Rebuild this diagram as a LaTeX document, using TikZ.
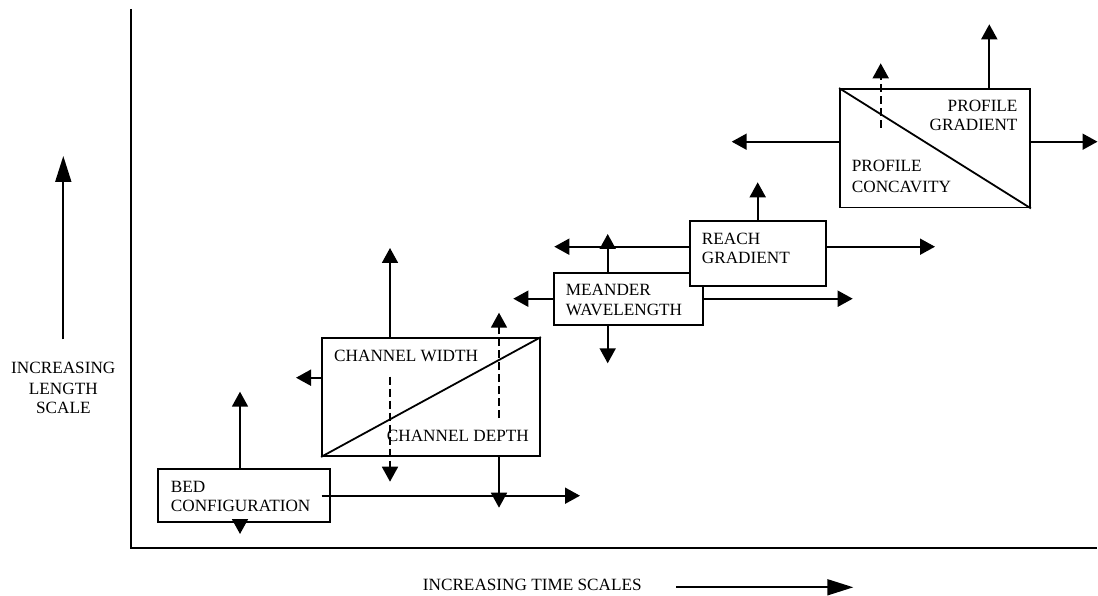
\documentclass[tikz,border=0pt]{standalone}
\usepackage{fontspec}
\setmainfont{Liberation Serif}
\usetikzlibrary{arrows.meta}
\begin{document}
\begin{tikzpicture}[x=1pt,y=-1pt,
  ln/.style={line width=1.8pt},
  arr/.style={ln,-{Triangle[length=15pt,width=16pt]}},
  bigarr/.style={ln,-{Triangle[length=26pt,width=16pt]}},
  darr/.style={arr,dash pattern=on 8pt off 4pt},
  box/.style={draw,ln,fill=white,rectangle,inner sep=0pt},
  lbl/.style={font=\fontsize{17.2}{19.5}\selectfont,inner sep=0pt,anchor=base west},
  lblr/.style={lbl,anchor=base east},
  lblc/.style={lbl,anchor=base}]
\useasboundingbox (0,0) rectangle (1098,596);

% axes
\coordinate (ytop) at (131,9);
\coordinate (O) at (131,548);
\coordinate (xend) at (1097,548);
\draw[ln] (ytop) -- (O) -- (xend);

% boxes
\node[box,minimum width=172pt,minimum height=53pt] (bed) at (244,495.5) {};
\node[box,minimum width=218pt,minimum height=118pt] (ch) at (431,397) {};
\node[box,minimum width=149.6pt,minimum height=52.3pt] (mw) at (628.5,298.85) {};
\node[box,minimum width=136.3pt,minimum height=65.3pt] (rg) at (757.85,253.35) {};
\node[box,minimum width=190pt,minimum height=118.5pt] (pr) at (935,148.25) {};

% diagonals
\draw[ln] (ch.south west) -- (ch.north east);
\draw[ln] (pr.north west) -- (pr.south east);

% bed arrows
\coordinate (bedU) at (240,391.7);
\coordinate (bedDs) at (240,519);
\coordinate (bedD) at (240,534);
\coordinate (bedRs) at (321.7,495.7);
\coordinate (bedR) at (580,495.7);
\draw[arr] (bedU |- bed.north) -- (bedU);
\draw[arr] (bedDs) -- (bedD);
\draw[arr] (bedRs) -- (bedR);

% channel arrows
\coordinate (chU) at (390,248);
\coordinate (chL) at (296,377.7);
\coordinate (chDs) at (390,376.7);
\coordinate (chDe) at (390,481.7);
\coordinate (chUs) at (499,418);
\coordinate (chUe) at (499,312.7);
\coordinate (chD) at (499,507.7);
\draw[arr] (chU |- ch.north) -- (chU);
\draw[arr] (chL -| ch.west) -- (chL);
\draw[darr] (chDs) -- (chDe);
\draw[darr] (chUs) -- (chUe);
\draw[arr] (chD |- ch.south) -- (chD);

% meander arrows
\coordinate (mwU) at (607.7,234);
\coordinate (mwD) at (607.7,363.3);
\coordinate (mwL) at (513.3,298.7);
\coordinate (mwR) at (852.7,298.7);
\draw[arr] (mwU |- mw.north) -- (mwU);
\draw[arr] (mwD |- mw.south) -- (mwD);
\draw[arr] (mwL -| mw.west) -- (mwL);
\draw[arr] (mwR -| mw.east) -- (mwR);

% reach arrows
\coordinate (rgU) at (757.7,182.3);
\coordinate (rgL) at (554.3,246.7);
\coordinate (rgR) at (935,246.7);
\draw[arr] (rgU |- rg.north) -- (rgU);
\draw[arr] (rgL -| rg.west) -- (rgL);
\draw[arr] (rgR -| rg.east) -- (rgR);

% profile arrows
\coordinate (prU) at (989.3,24.3);
\coordinate (prDs) at (880.7,128);
\coordinate (prDe) at (880.7,63.3);
\coordinate (prL) at (731.7,141.7);
\coordinate (prR) at (1097.5,141.7);
\draw[arr] (prU |- pr.north) -- (prU);
\draw[darr] (prDs) -- (prDe);
\draw[arr] (prL -| pr.west) -- (prL);
\draw[arr] (prR -| pr.east) -- (prR);

% labels
\node[lbl] (bed1) at (170.7,492.3) {BED};
\node[lbl] (bed2) at (170.7,511.6) {CONFIGURATION};
\node[lbl] (chw) at (334,361.7) {CHANNEL WIDTH};
\node[lbl] (chd) at (386.7,441.7) {CHANNEL DEPTH};
\node[lbl] (mw1) at (565.7,295.7) {MEANDER};
\node[lbl] (mw2) at (565.7,315) {WAVELENGTH};
\node[lbl] (rg1) at (701.7,244) {REACH};
\node[lbl] (rg2) at (701.7,264) {GRADIENT};
\node[lblr] (pg1) at (1017.7,111.7) {PROFILE};
\node[lblr] (pg2) at (1017.7,131) {GRADIENT};
\node[lbl] (pc1) at (851.7,171.7) {PROFILE};
\node[lbl] (pc2) at (851.7,192.3) {CONCAVITY};
\node[lblc] (yl1) at (63.3,373.3) {INCREASING};
\node[lblc] (yl2) at (63.3,394) {LENGTH};
\node[lblc] (yl3) at (63.3,413.3) {SCALE};
\node[lbl] (xl) at (422.7,590.7) {INCREASING TIME SCALES};

% axis label arrows
\coordinate (lenS) at (63.3,339.3);
\coordinate (lenE) at (63.3,156);
\coordinate (timS) at (676,587.3);
\coordinate (timE) at (853.3,587.3);
\draw[bigarr] (lenS) -- (lenE);
\draw[bigarr] (timS) -- (timE);
\end{tikzpicture}
\end{document}
